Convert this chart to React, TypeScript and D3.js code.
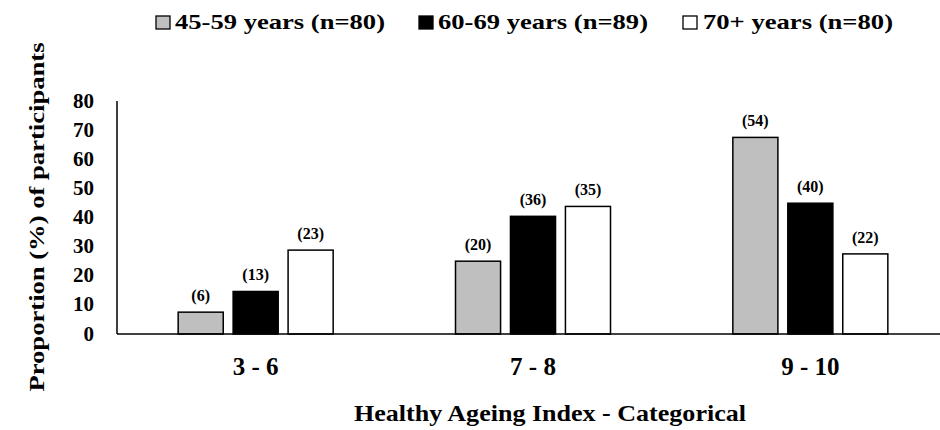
import React from "react";
import * as d3 from "d3";

const categories = ["3 - 6", "7 - 8", "9 - 10"];
const seriesNames = ["45-59 years (n=80)", "60-69 years (n=89)", "70+ years (n=80)"];
const seriesFills = ["#bfbfbf", "#000000", "#ffffff"];
const values4559 = [7.5, 25.0, 67.5];
const values6069 = [14.6, 40.4, 44.9];
const values70 = [28.8, 43.8, 27.5];
const counts4559 = ["(6)", "(20)", "(54)"];
const counts6069 = ["(13)", "(36)", "(40)"];
const counts70 = ["(23)", "(35)", "(22)"];
const yTicks = [0, 10, 20, 30, 40, 50, 60, 70, 80];

const seriesValues = [values4559, values6069, values70];
const seriesCounts = [counts4559, counts6069, counts70];

const FONT = "'Liberation Serif', Tinos, 'Times New Roman', 'DejaVu Serif', serif";

export default function App() {
  const W = 940, H = 430;
  const x0 = d3.scaleBand<string>().domain(categories).range([117, 949]).paddingInner(0).paddingOuter(0);
  const bw = x0.bandwidth();
  const x1 = d3.scaleBand<string>().domain(seriesNames).range([bw / 2 - 77.5, bw / 2 + 77.5]).paddingInner(0.18);
  const y = d3.scaleLinear().domain([0, 80]).range([334, 101]);

  const legendSquareX = [156, 419, 683];
  const legendTextX = [175, 438, 703];
  const legendTextW = [210, 210, 190];

  return (
    <svg width={W} height={H} style={{ display: "block", position: "absolute", left: 0, top: 0 }} fontFamily={FONT} fontWeight="bold">
      <rect x={0} y={0} width={W} height={H} fill="#ffffff" />
      {/* legend */}
      {seriesNames.map((s, i) => (
        <g key={s}>
          <rect x={legendSquareX[i]} y={16} width={14} height={13} fill={seriesFills[i]} stroke="#000" strokeWidth={1.3} />
          <text x={legendTextX[i]} y={29} fontSize={21} textLength={legendTextW[i]} lengthAdjust="spacingAndGlyphs" fill="#000">{s}</text>
        </g>
      ))}
      {/* y axis */}
      <line x1={117} x2={117} y1={y(80)} y2={y(0)} stroke="#000" strokeWidth={1.5} />
      {yTicks.map((t) => (
        <text key={t} x={94} y={y(t) + 6.5} fontSize={21} textAnchor="end" fill="#000">{t}</text>
      ))}
      {/* bars */}
      {categories.map((c, ci) => (
        <g key={c} transform={`translate(${x0(c)},0)`}>
          {seriesNames.map((s, si) => {
            const v = seriesValues[si][ci];
            const bx = x1(s)!;
            return (
              <g key={s}>
                <rect x={bx} y={y(v)} width={x1.bandwidth()} height={y(0) - y(v)} fill={seriesFills[si]} stroke="#000" strokeWidth={1.5} />
                <text x={bx + x1.bandwidth() / 2} y={y(v) - 11} fontSize={16} textAnchor="middle" fill="#000">{seriesCounts[si][ci]}</text>
              </g>
            );
          })}
        </g>
      ))}
      {/* x axis */}
      <line x1={117} x2={940} y1={y(0)} y2={y(0)} stroke="#000" strokeWidth={1.5} />
      {categories.map((c) => (
        <text key={c} x={x0(c)! + bw / 2} y={375} fontSize={25} textAnchor="middle" fill="#000">{c}</text>
      ))}
      <text x={550} y={421} fontSize={24} textAnchor="middle" textLength={392} lengthAdjust="spacingAndGlyphs" fill="#000">Healthy Ageing Index - Categorical</text>
      <text transform={`translate(44,217) rotate(-90)`} fontSize={20} textAnchor="middle" textLength={349} lengthAdjust="spacingAndGlyphs" fill="#000">Proportion (%) of participants</text>
    </svg>
  );
}
